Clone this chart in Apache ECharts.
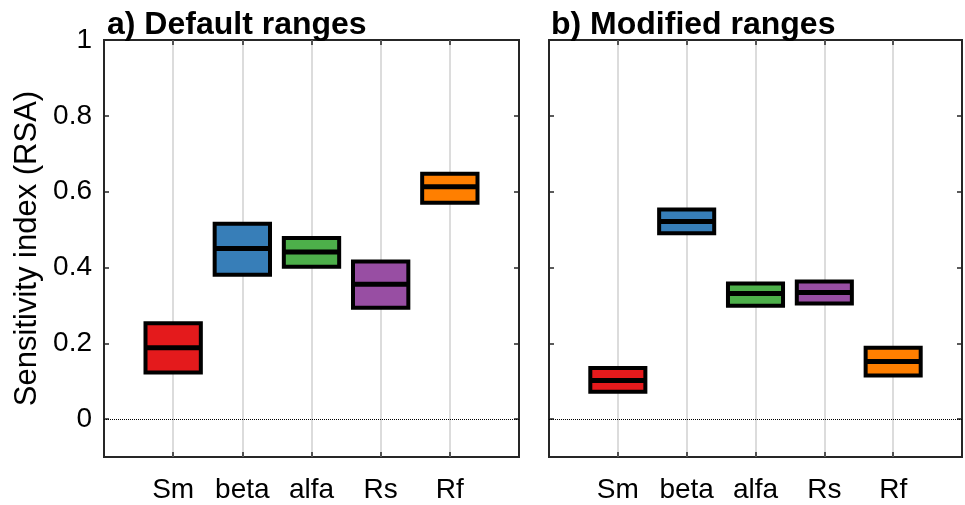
<!DOCTYPE html>
<html><head><meta charset="utf-8">
<script src="https://cdn.jsdelivr.net/npm/echarts@6/dist/echarts.min.js"></script>
<style>html,body{margin:0;padding:0;background:#fff}#c{width:965px;height:505px}</style>
</head><body><div id="c"></div><script>
const categories = ['Sm','beta','alfa','Rs','Rf'];
const boxColors = ['#e41a1c','#377eb8','#4daf4a','#984ea3','#ff7f00'];
const defaultLow = [0.123,0.381,0.402,0.294,0.571];
const defaultMedian = [0.188,0.450,0.441,0.356,0.613];
const defaultHigh = [0.253,0.515,0.478,0.416,0.647];
const modifiedLow = [0.072,0.490,0.299,0.305,0.115];
const modifiedMedian = [0.102,0.521,0.331,0.334,0.152];
const modifiedHigh = [0.135,0.553,0.358,0.363,0.188];
const yTicks = [0,0.2,0.4,0.6,0.8,1];
const panelTitles = ['a) Default ranges','b) Modified ranges'];
const yAxisTitle = 'Sensitivity index (RSA)';

const FONT = "'Liberation Sans', Arial, Helvetica, sans-serif";
const FRAME = '#262626';
const chart = echarts.init(document.getElementById('c'), null, {renderer:'canvas'});

const grids = [
  {left:104, top:40, width:415, height:417},
  {left:549, top:40, width:415, height:417}
].map(g => Object.assign(g, {show:true, borderColor:FRAME, borderWidth:2, backgroundColor:'transparent', containLabel:false}));

const xAxes = [], yAxes = [];
[0,1].forEach(p => {
  xAxes.push({
    type:'value', gridIndex:p, min:0, max:6, interval:1, position:'bottom',
    axisLine:{show:false, onZero:false},
    axisTick:{show:true, inside:true, length:5, lineStyle:{color:FRAME, width:1.5}},
    axisLabel:{show:true, margin:19, fontSize:28, color:'#000', fontFamily:FONT,
      formatter: v => categories[v-1] || ''},
    splitLine:{show:true, showMinLine:false, showMaxLine:false, lineStyle:{color:'#dcdcdc', width:2}}
  });
  xAxes.push({
    type:'value', gridIndex:p, min:0, max:6, interval:1, position:'top',
    axisLine:{show:false, onZero:false},
    axisTick:{show:true, inside:true, length:5, lineStyle:{color:FRAME, width:1.5}},
    axisLabel:{show:false}, splitLine:{show:false}
  });
  yAxes.push({
    type:'value', gridIndex:p, min:-0.1, max:1, position:'left',
    axisLine:{show:false, onZero:false},
    axisTick:{show:true, inside:true, length:5, customValues:yTicks, lineStyle:{color:FRAME, width:1.5}},
    axisLabel:{show:p===0, customValues:yTicks, margin:12, fontSize:28, color:'#000', fontFamily:FONT,
      formatter: v => String(Math.round(v*10)/10)},
    splitLine:{show:false},
    name: p===0 ? yAxisTitle : '', nameLocation:'middle', nameGap:61, nameRotate:90,
    nameTextStyle:{fontSize:31, color:'#000', fontFamily:FONT}
  });
  yAxes.push({
    type:'value', gridIndex:p, min:-0.1, max:1, position:'right',
    axisLine:{show:false, onZero:false},
    axisTick:{show:true, inside:true, length:5, customValues:yTicks, lineStyle:{color:FRAME, width:1.5}},
    axisLabel:{show:false, customValues:yTicks}, splitLine:{show:false}
  });
});

function renderBox(params, api){
  const x = api.value(0), lo = api.value(1), md = api.value(2), hi = api.value(3);
  const c = boxColors[params.dataIndex];
  const p1 = api.coord([x-0.4, hi]), p2 = api.coord([x+0.4, lo]);
  const m1 = api.coord([x-0.4, md]), m2 = api.coord([x+0.4, md]);
  return {type:'group', children:[
    {type:'rect', shape:{x:p1[0], y:p1[1], width:p2[0]-p1[0], height:p2[1]-p1[1]},
      style:{fill:c, stroke:'#000', lineWidth:4}},
    {type:'line', shape:{x1:m1[0], y1:m1[1], x2:m2[0], y2:m2[1]},
      style:{stroke:'#000', lineWidth:5}}
  ]};
}

function makeSeries(p, low, med, high){
  return {
    type:'custom', xAxisIndex:p*2, yAxisIndex:p*2, renderItem:renderBox, silent:true,
    encode:{x:0, y:[1,2,3]},
    data: categories.map((c,i) => [i+1, low[i], med[i], high[i]]),
    markLine:{silent:true, symbol:['none','none'], label:{show:false},
      lineStyle:{type:'dotted', color:'#000', width:1}, data:[{yAxis:0}], animation:false},
    z:5
  };
}

chart.setOption({
  animation:false,
  title: panelTitles.map((t,i) => ({text:t, left: i===0 ? 102 : 546, top:4,
    textStyle:{fontSize:32, fontWeight:'bold', color:'#000', fontFamily:FONT}})),
  grid: grids,
  xAxis: xAxes,
  yAxis: yAxes,
  series: [
    makeSeries(0, defaultLow, defaultMedian, defaultHigh),
    makeSeries(1, modifiedLow, modifiedMedian, modifiedHigh)
  ]
});
</script></body></html>
